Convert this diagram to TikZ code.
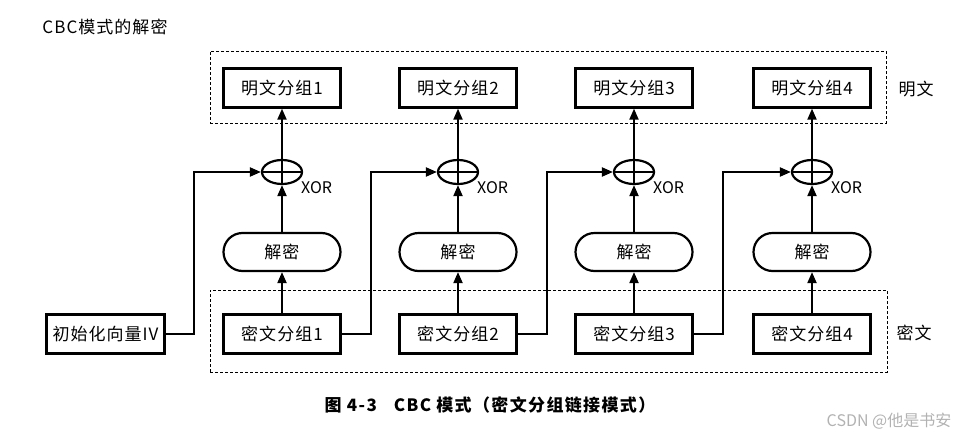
\documentclass[tikz,border=0pt]{standalone}
\usepackage{fontspec}
\setmainfont{Noto Sans CJK SC}
\usetikzlibrary{arrows.meta,shapes.geometric}
\begin{document}
\begin{tikzpicture}[x=1pt,y=-1pt,
  txt/.style={font=\fontsize{17}{17}\selectfont\addfontfeature{LetterSpace=6}},
  blk/.style={draw, line width=2.3pt, minimum width=117pt, minimum height=39pt, inner sep=0pt, txt},
  pill/.style={draw, line width=2.2pt, rounded corners=19pt, minimum width=117pt, minimum height=38pt, inner sep=0pt, txt},
  xorc/.style={draw, ellipse, line width=2.2pt, minimum width=40pt, minimum height=24pt, inner sep=0pt},
  ln/.style={line width=2pt},
  arr/.style={ln, -{Triangle[length=11pt,width=9pt]}},
  grp/.style={draw, line width=0.8pt, dash pattern=on 3pt off 2pt, inner sep=0pt}]
\useasboundingbox (0,0) rectangle (973,439);
\node[txt] (title) at (105,27) {CBC模式的解密};
\node[grp, minimum width=676pt, minimum height=72pt] (pbox) at (548,87) {};
\node[grp, minimum width=677pt, minimum height=82pt] (cbox) at (548.5,331) {};
\node[txt] (ptl) at (916,89) {明文};
\node[txt] (ctl) at (914,333) {密文};
\foreach \i/\x in {1/282,2/458,3/634,4/812}{
  \node[blk] (p\i) at (\x,88) {明文分组\i};
  \node[xorc] (x\i) at (\x,172) {};
  \node[anchor=west, font=\fontsize{16}{16}\selectfont, inner sep=0pt] (xl\i) at (\x+19,188) {XOR};
  \node[pill] (d\i) at (\x,252) {解密};
  \node[blk] (c\i) at (\x,334) {密文分组\i};
  \draw[arr] (c\i) -- (d\i);
  \draw[arr] (d\i) -- (x\i.south);
  \draw[arr] (x\i.south) -- (p\i.south);
  \draw[ln] (x\i.west) -- (x\i.east);
}
\node[blk, minimum width=118pt] (iv) at (105.5,334) {初始化向量IV};
\draw[arr] (iv.east) -- ++(28,0) |- (x1.west);
\draw[arr] (c1.east) -- ++(29,0) |- (x2.west);
\draw[arr] (c2.east) -- ++(29,0) |- (x3.west);
\draw[arr] (c3.east) -- ++(29,0) |- (x4.west);
\node[font=\bfseries\fontsize{17}{17}\selectfont\addfontfeature{LetterSpace=8}] (cap) at (490,405) {图 4-3\quad CBC 模式（密文分组链接模式）};
\node[text=gray!60, font=\fontsize{16}{16}\selectfont] (wm) at (889,421) {CSDN @他是书安};
\end{tikzpicture}
\end{document}
